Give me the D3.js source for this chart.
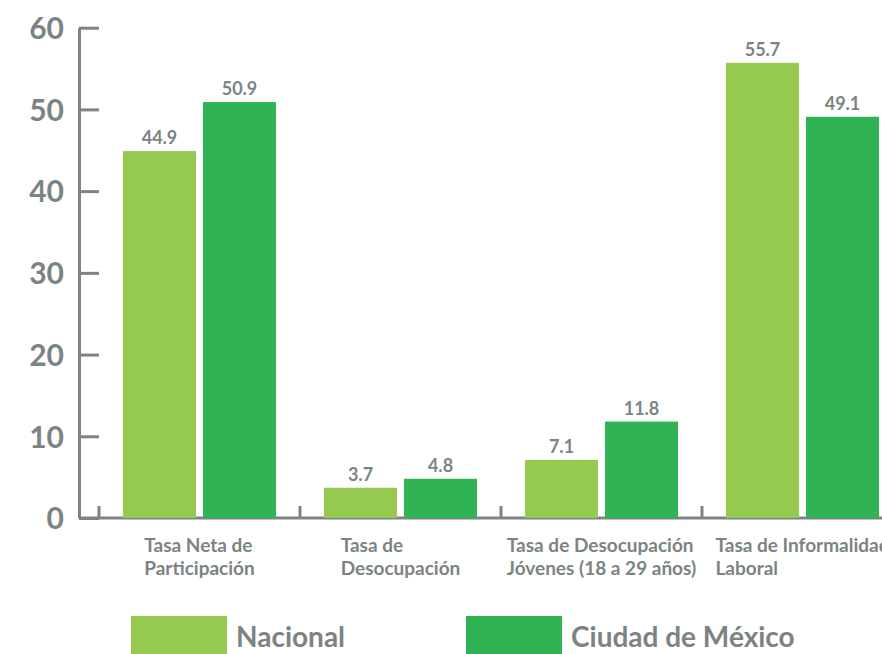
<!DOCTYPE html>
<html>
<head>
<meta charset="utf-8">
<script src="https://cdn.jsdelivr.net/npm/d3@7"></script>
<style>
  body { margin: 0; background: #fff; }
  svg { display: block; font-family: Lato, "Open Sans", sans-serif; }
</style>
</head>
<body>
<div class="chart"></div>
<script>
// data
let categories = ['Tasa Neta de|Participación', 'Tasa de|Desocupación', 'Tasa de Desocupación|Jóvenes (18 a 29 años)', 'Tasa de Informalidad|Laboral'];
let series = ['Nacional', 'Ciudad de México'];
let nacional = [44.9, 3.7, 7.1, 55.7];
let cdmx = [50.9, 4.8, 11.8, 49.1];
let yTicks = [0, 10, 20, 30, 40, 50, 60];

let colors = ['#95c950', '#30b354'];
let gray = '#7c8483';

let width = 882, height = 654;

let svg = d3.select('.chart')
    .append('svg')
    .attr('width', width)
    .attr('height', height);

// scales
let yScale = d3.scaleLinear()
    .domain([0, 60])
    .range([518, 27.7]);

let xScale = d3.scaleBand()
    .domain(categories)
    .range([99, 903]);

let xSub = d3.scaleBand()
    .domain(series)
    .range([0, xScale.bandwidth()])
    .paddingInner(0.0875)
    .paddingOuter(0.3);

// y axis, ticks pointing inwards
let yAxis = d3.axisLeft(yScale)
    .tickValues(yTicks)
    .tickSizeInner(-20)
    .tickSizeOuter(0)
    .tickPadding(15);

let yg = svg.append('g')
    .attr('transform', 'translate(79,0)')
    .call(yAxis)
    .attr('font-family', null);
yg.select('.domain').attr('stroke', gray).attr('stroke-width', 3);
yg.selectAll('.tick line').attr('stroke', gray).attr('stroke-width', 3);
yg.selectAll('.tick text')
    .attr('fill', gray)
    .style('font-family', 'Lato, sans-serif')
    .style('font-size', '30px')
    .style('font-weight', 'bold')
    .attr('dy', '0.36em');

// x baseline and small separator ticks
svg.append('line')
    .attr('x1', 79).attr('x2', 903)
    .attr('y1', yScale(0)).attr('y2', yScale(0))
    .attr('stroke', gray).attr('stroke-width', 3);

svg.selectAll('.xtick')
    .data(categories)
    .enter()
    .append('line')
    .attr('class', 'xtick')
    .attr('x1', d => xScale(d)).attr('x2', d => xScale(d))
    .attr('y1', yScale(0) - 12).attr('y2', yScale(0))
    .attr('stroke', gray).attr('stroke-width', 3);

// bars
let rows = categories.map((c, i) => ({ cat: c, vals: [nacional[i], cdmx[i]] }));

let groups = svg.selectAll('.grp')
    .data(rows)
    .enter()
    .append('g')
    .attr('class', 'grp')
    .attr('transform', d => `translate(${xScale(d.cat)},0)`);

let cells = groups.selectAll('g')
    .data(d => d.vals.map((v, j) => ({ s: series[j], v: v, j: j })))
    .enter()
    .append('g');

cells.append('rect')
    .attr('x', d => xSub(d.s))
    .attr('y', d => yScale(d.v))
    .attr('width', xSub.bandwidth())
    .attr('height', d => yScale(0) - yScale(d.v))
    .attr('fill', d => colors[d.j]);

cells.append('text')
    .attr('x', d => xSub(d.s) + xSub.bandwidth() / 2)
    .attr('y', d => yScale(d.v) - 7)
    .attr('text-anchor', 'middle')
    .attr('fill', gray)
    .style('font-size', '18px')
    .style('font-weight', 'bold')
    .text(d => d.v.toFixed(1));

// category labels: left aligned block centred on the band
// (the last one runs past the right edge, as in the original)
categories.forEach(c => {
    let lines = c.split('|');
    let t = svg.append('text')
        .attr('fill', gray)
        .style('font-size', '19px')
        .style('font-weight', 'bold');
    lines.forEach((l, k) => {
        t.append('tspan')
            .attr('y', 552 + k * 23)
            .text(l);
    });
    let w = d3.max(t.selectAll('tspan').nodes(), n => n.getComputedTextLength());
    t.selectAll('tspan').attr('x', xScale(c) + xScale.bandwidth() / 2 - w / 2);
});

// legend
let legendX = [131, 466];
series.forEach((s, i) => {
    svg.append('rect')
        .attr('x', legendX[i]).attr('y', 616)
        .attr('width', 96).attr('height', 40)
        .attr('fill', colors[i]);
    svg.append('text')
        .attr('x', legendX[i] + 105).attr('y', 647)
        .attr('fill', gray)
        .style('font-size', '28px')
        .style('font-weight', 'bold')
        .text(s);
});
</script>
</body>
</html>
